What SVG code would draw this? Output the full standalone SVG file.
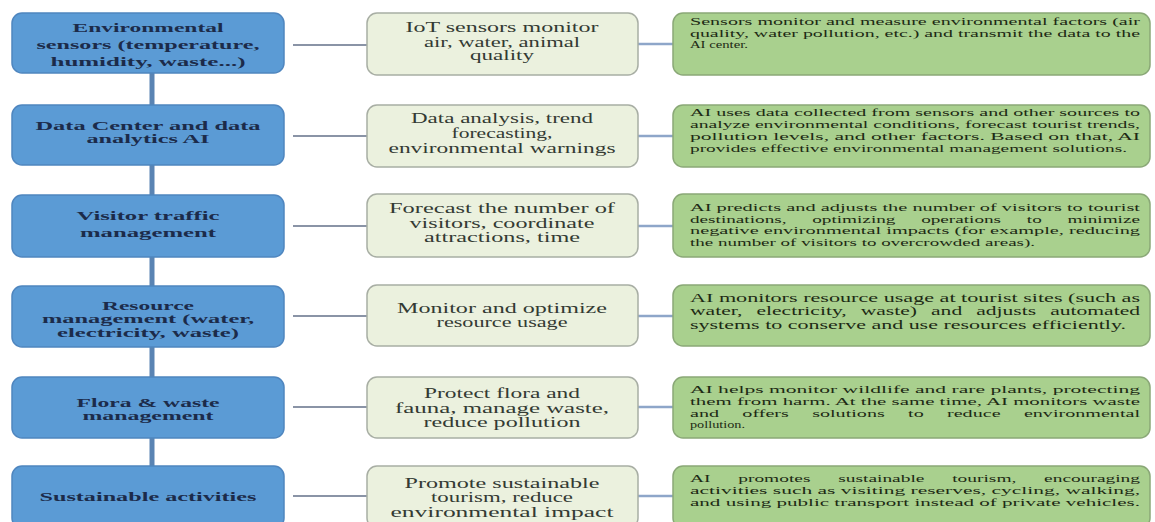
<svg xmlns="http://www.w3.org/2000/svg" width="1155" height="522" viewBox="0 0 1155 522">
<style>
.bl{fill:#5b9bd5;stroke:#4f86bf;stroke-width:1.5}
.mid{fill:#ebf1de;stroke:#a8aea4;stroke-width:1.5}
.rt{fill:#a9d08e;stroke:#8aa877;stroke-width:1.5}
.lt{font-family:"Liberation Serif",serif;font-size:13px;font-weight:bold;fill:#1c2b4a;text-anchor:middle}
.mt{font-family:"Liberation Serif",serif;font-size:14px;fill:#333a33;text-anchor:middle}
.rtx{font-family:"Liberation Serif",serif;font-size:11px;fill:#1d2a14}
.rtx2{font-family:"Liberation Serif",serif;font-size:12.5px;fill:#1d2a14}
.vline{stroke:#5a84b3;stroke-width:5;fill:none}
.arr{stroke:#8a94a6;stroke-width:2;fill:none}
.cn{stroke:#8ea6c9;stroke-width:2.5;fill:none}
</style>
<rect width="1155" height="522" fill="#ffffff"/>
<g id="connectors">
<line class="vline" x1="152" y1="73" x2="152" y2="466"/>
<line class="arr" x1="367" y1="45" x2="293" y2="45"/>
<line class="arr" x1="367" y1="136" x2="293" y2="136"/>
<line class="arr" x1="367" y1="226" x2="293" y2="226"/>
<line class="arr" x1="367" y1="316" x2="293" y2="316"/>
<line class="arr" x1="367" y1="407" x2="293" y2="407"/>
<line class="arr" x1="367" y1="496" x2="293" y2="496"/>
<line class="cn" x1="638" y1="44" x2="673" y2="44"/>
<line class="cn" x1="638" y1="136" x2="673" y2="136"/>
<line class="cn" x1="638" y1="226" x2="673" y2="226"/>
<line class="cn" x1="638" y1="316" x2="673" y2="316"/>
<line class="cn" x1="638" y1="407" x2="673" y2="407"/>
<line class="cn" x1="638" y1="496" x2="673" y2="496"/>
</g>
<g id="left1"><rect class="bl" x="12" y="13" width="272" height="60" rx="10"/>
<text class="lt" x="148" y="31.5" textLength="151" lengthAdjust="spacingAndGlyphs">Environmental</text>
<text class="lt" x="148" y="48.5" textLength="223" lengthAdjust="spacingAndGlyphs">sensors (temperature,</text>
<text class="lt" x="148" y="66" textLength="195" lengthAdjust="spacingAndGlyphs">humidity, waste...)</text></g>
<g id="left2"><rect class="bl" x="12" y="105" width="272" height="60" rx="10"/>
<text class="lt" x="148" y="129.5" textLength="225" lengthAdjust="spacingAndGlyphs">Data Center and data</text>
<text class="lt" x="148" y="143" textLength="123" lengthAdjust="spacingAndGlyphs">analytics AI</text></g>
<g id="left3"><rect class="bl" x="12" y="195" width="272" height="62" rx="10"/>
<text class="lt" x="148" y="219.5" textLength="143" lengthAdjust="spacingAndGlyphs">Visitor traffic</text>
<text class="lt" x="148" y="236.5" textLength="136" lengthAdjust="spacingAndGlyphs">management</text></g>
<g id="left4"><rect class="bl" x="12" y="286" width="272" height="61" rx="10"/>
<text class="lt" x="148" y="309.5" textLength="92" lengthAdjust="spacingAndGlyphs">Resource</text>
<text class="lt" x="148" y="322.5" textLength="212" lengthAdjust="spacingAndGlyphs">management (water,</text>
<text class="lt" x="148" y="336.5" textLength="182" lengthAdjust="spacingAndGlyphs">electricity, waste)</text></g>
<g id="left5"><rect class="bl" x="12" y="377" width="272" height="61" rx="10"/>
<text class="lt" x="148" y="406.5" textLength="143" lengthAdjust="spacingAndGlyphs">Flora &amp; waste</text>
<text class="lt" x="148" y="419.5" textLength="131" lengthAdjust="spacingAndGlyphs">management</text></g>
<g id="left6"><rect class="bl" x="12" y="466" width="272" height="62" rx="10"/>
<text class="lt" x="148" y="500.5" textLength="217" lengthAdjust="spacingAndGlyphs">Sustainable activities</text></g>

<g id="mid1"><rect class="mid" x="367" y="13" width="271" height="62" rx="10"/>
<text class="mt" x="502" y="32" textLength="193" lengthAdjust="spacingAndGlyphs">IoT sensors monitor</text>
<text class="mt" x="502" y="47" textLength="156" lengthAdjust="spacingAndGlyphs">air, water, animal</text>
<text class="mt" x="502" y="60" textLength="64" lengthAdjust="spacingAndGlyphs">quality</text></g>
<g id="mid2"><rect class="mid" x="367" y="105" width="271" height="62" rx="10"/>
<text class="mt" x="502" y="123" textLength="182" lengthAdjust="spacingAndGlyphs">Data analysis, trend</text>
<text class="mt" x="502" y="138" textLength="101" lengthAdjust="spacingAndGlyphs">forecasting,</text>
<text class="mt" x="502" y="153" textLength="227" lengthAdjust="spacingAndGlyphs">environmental warnings</text></g>
<g id="mid3"><rect class="mid" x="367" y="194" width="271" height="63" rx="10"/>
<text class="mt" x="502" y="213" textLength="226" lengthAdjust="spacingAndGlyphs">Forecast the number of</text>
<text class="mt" x="502" y="228" textLength="185" lengthAdjust="spacingAndGlyphs">visitors, coordinate</text>
<text class="mt" x="502" y="242" textLength="156" lengthAdjust="spacingAndGlyphs">attractions, time</text></g>
<g id="mid4"><rect class="mid" x="367" y="285" width="271" height="61" rx="10"/>
<text class="mt" x="502" y="313" textLength="210" lengthAdjust="spacingAndGlyphs">Monitor and optimize</text>
<text class="mt" x="502" y="327" textLength="131" lengthAdjust="spacingAndGlyphs">resource usage</text></g>
<g id="mid5"><rect class="mid" x="367" y="377" width="271" height="61" rx="10"/>
<text class="mt" x="502" y="398" textLength="156" lengthAdjust="spacingAndGlyphs">Protect flora and</text>
<text class="mt" x="502" y="413" textLength="214" lengthAdjust="spacingAndGlyphs">fauna, manage waste,</text>
<text class="mt" x="502" y="427" textLength="157" lengthAdjust="spacingAndGlyphs">reduce pollution</text></g>
<g id="mid6"><rect class="mid" x="367" y="466" width="271" height="62" rx="10"/>
<text class="mt" x="502" y="488" textLength="195" lengthAdjust="spacingAndGlyphs">Promote sustainable</text>
<text class="mt" x="502" y="502" textLength="142" lengthAdjust="spacingAndGlyphs">tourism, reduce</text>
<text class="mt" x="502" y="517" textLength="223" lengthAdjust="spacingAndGlyphs">environmental impact</text></g>

<g id="right1"><rect class="rt" x="673" y="13" width="477" height="62" rx="10"/>
<text class="rtx" x="690" y="25" textLength="450" lengthAdjust="spacingAndGlyphs">Sensors monitor and measure environmental factors (air</text>
<text class="rtx" x="690" y="36.5" textLength="450" lengthAdjust="spacingAndGlyphs">quality, water pollution, etc.) and transmit the data to the</text>
<text class="rtx" x="690" y="48" textLength="58" lengthAdjust="spacingAndGlyphs">AI center.</text></g>
<g id="right2"><rect class="rt" x="673" y="105" width="477" height="62" rx="10"/>
<text class="rtx" x="690" y="116" textLength="450" lengthAdjust="spacingAndGlyphs">AI uses data collected from sensors and other sources to</text>
<text class="rtx" x="690" y="128" textLength="450" lengthAdjust="spacingAndGlyphs">analyze environmental conditions, forecast tourist trends,</text>
<text class="rtx" x="690" y="140" textLength="450" lengthAdjust="spacingAndGlyphs">pollution levels, and other factors. Based on that, AI</text>
<text class="rtx" x="690" y="152" textLength="437" lengthAdjust="spacingAndGlyphs">provides effective environmental management solutions.</text></g>
<g id="right3"><rect class="rt" x="673" y="194" width="477" height="63" rx="10"/>
<text class="rtx" x="690" y="211" textLength="450" lengthAdjust="spacingAndGlyphs">AI predicts and adjusts the number of visitors to tourist</text>
<text class="rtx" x="690" y="222.5" textLength="450" lengthAdjust="spacingAndGlyphs" style="word-spacing:12px">destinations, optimizing operations to minimize</text>
<text class="rtx" x="690" y="234" textLength="450" lengthAdjust="spacingAndGlyphs">negative environmental impacts (for example, reducing</text>
<text class="rtx" x="690" y="246" textLength="345" lengthAdjust="spacingAndGlyphs">the number of visitors to overcrowded areas).</text></g>
<g id="right4"><rect class="rt" x="673" y="285" width="477" height="61" rx="10"/>
<text class="rtx2" x="690" y="302" textLength="450" lengthAdjust="spacingAndGlyphs">AI monitors resource usage at tourist sites (such as</text>
<text class="rtx2" x="690" y="315" textLength="450" lengthAdjust="spacingAndGlyphs" style="word-spacing:5px">water, electricity, waste) and adjusts automated</text>
<text class="rtx2" x="690" y="329" textLength="436" lengthAdjust="spacingAndGlyphs">systems to conserve and use resources efficiently.</text></g>
<g id="right5"><rect class="rt" x="673" y="377" width="477" height="61" rx="10"/>
<text class="rtx" x="690" y="393" textLength="450" lengthAdjust="spacingAndGlyphs">AI helps monitor wildlife and rare plants, protecting</text>
<text class="rtx" x="690" y="405" textLength="450" lengthAdjust="spacingAndGlyphs">them from harm. At the same time, AI monitors waste</text>
<text class="rtx" x="690" y="416.5" textLength="450" lengthAdjust="spacingAndGlyphs" style="word-spacing:10px">and offers solutions to reduce environmental</text>
<text class="rtx" x="690" y="428" textLength="55" lengthAdjust="spacingAndGlyphs">pollution.</text></g>
<g id="right6"><rect class="rt" x="673" y="466" width="477" height="62" rx="10"/>
<text class="rtx" x="690" y="482" textLength="450" lengthAdjust="spacingAndGlyphs" style="word-spacing:13px">AI promotes sustainable tourism, encouraging</text>
<text class="rtx" x="690" y="494" textLength="450" lengthAdjust="spacingAndGlyphs">activities such as visiting reserves, cycling, walking,</text>
<text class="rtx" x="690" y="506" textLength="450" lengthAdjust="spacingAndGlyphs">and using public transport instead of private vehicles.</text></g>
</svg>
